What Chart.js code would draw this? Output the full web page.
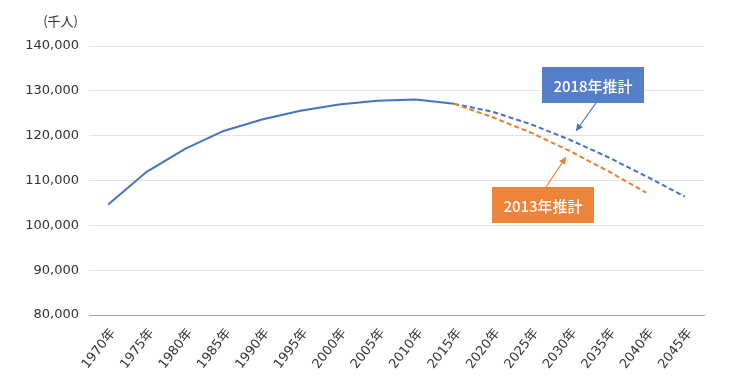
<!DOCTYPE html>
<html>
<head>
<meta charset="utf-8">
<script src="https://cdn.jsdelivr.net/npm/chart.js@4.4.1/dist/chart.umd.min.js"></script>
<style>
  html, body { margin: 0; padding: 0; background: #fff; }
  #wrap { width: 730px; height: 381px; position: relative; }
</style>
</head>
<body>
<div id="wrap"><canvas id="c"></canvas></div>
<script>
const categories = ["1970年","1975年","1980年","1985年","1990年","1995年","2000年","2005年","2010年","2015年","2020年","2025年","2030年","2035年","2040年","2045年"];
const actual     = [104665,111940,117060,121049,123611,125570,126926,127768,128057,127095,null,null,null,null,null,null];
const proj2018   = [null,null,null,null,null,null,null,null,null,127095,125325,122544,119125,115216,110919,106421];
const proj2013   = [null,null,null,null,null,null,null,null,null,127095,124100,120659,116618,112124,107276,null];
const yMin = 80000, yMax = 140000, yStep = 10000;
const unitLabel = "(千人)";
const label2018 = "2018年推計";
const label2013 = "2013年推計";

const FONT = "'DejaVu Sans', 'Noto Sans CJK JP', sans-serif";
const CJK = "'Noto Sans CJK JP', 'Noto Sans', sans-serif";
const BLUE = "#4472C4";
const ORANGE = "#ED7D31";

const annotationPlugin = {
  id: 'annot',
  afterDraw(chart) {
    const ctx = chart.ctx;
    ctx.save();
    ctx.fillStyle = '#333';
    ctx.font = "13px " + CJK;
    ctx.textAlign = 'right';
    ctx.textBaseline = 'middle';
    ctx.fillText(unitLabel, 78, 21);

    function box(x, y, w, h, color, text) {
      ctx.fillStyle = color;
      ctx.fillRect(x, y, w, h);
      ctx.fillStyle = '#fff';
      ctx.font = "500 15px " + CJK;
      ctx.textAlign = 'center';
      ctx.textBaseline = 'middle';
      ctx.fillText(text, x + w / 2, y + h / 2 + 1);
    }
    function arrow(x1, y1, x2, y2, color) {
      ctx.strokeStyle = color;
      ctx.fillStyle = color;
      ctx.lineWidth = 1.2;
      ctx.beginPath();
      ctx.moveTo(x1, y1);
      ctx.lineTo(x2, y2);
      ctx.stroke();
      const a = Math.atan2(y2 - y1, x2 - x1);
      const L = 7, W = 3.5;
      ctx.beginPath();
      ctx.moveTo(x2, y2);
      ctx.lineTo(x2 - L * Math.cos(a) + W * Math.sin(a), y2 - L * Math.sin(a) - W * Math.cos(a));
      ctx.lineTo(x2 - L * Math.cos(a) - W * Math.sin(a), y2 - L * Math.sin(a) + W * Math.cos(a));
      ctx.closePath();
      ctx.fill();
    }
    box(542, 67, 102, 36, '#5580C9', label2018);
    arrow(596, 103, 576, 131, BLUE);
    box(492, 187, 102, 36, '#EE843A', label2013);
    arrow(546, 187, 566, 157, ORANGE);
    ctx.restore();
  }
};

new Chart(document.getElementById('c'), {
  type: 'line',
  data: {
    labels: categories,
    datasets: [
      { data: proj2013, borderColor: ORANGE, borderWidth: 2, borderDash: [5, 3], pointRadius: 0, fill: false, tension: 0 },
      { data: proj2018, borderColor: BLUE, borderWidth: 2, borderDash: [5, 3], pointRadius: 0, fill: false, tension: 0 },
      { data: actual, borderColor: BLUE, borderWidth: 2, pointRadius: 0, fill: false, tension: 0 }
    ]
  },
  options: {
    responsive: true,
    maintainAspectRatio: false,
    animation: false,
    events: [],
    layout: { padding: { top: 46, right: 26, left: 0, bottom: 0 } },
    plugins: { legend: { display: false }, tooltip: { enabled: false } },
    scales: {
      x: {
        offset: true,
        grid: { display: false },
        border: { display: true, color: '#a6a6a6', width: 1 },
        ticks: {
          color: '#333',
          font: { family: FONT, size: 13 },
          minRotation: 52, maxRotation: 52,
          autoSkip: false,
          labelOffset: 5,
          padding: 3
        },
        afterFit(s) { s.height = 66; }
      },
      y: {
        min: yMin, max: yMax,
        grid: { color: '#e2e2e2', drawTicks: false },
        border: { display: false },
        ticks: {
          stepSize: yStep,
          color: '#333',
          font: { family: FONT, size: 13 },
          padding: 10,
          callback: v => v.toLocaleString('en-US')
        },
        afterFit(s) { s.width = 89; }
      }
    }
  },
  plugins: [annotationPlugin]
});
</script>
</body>
</html>
